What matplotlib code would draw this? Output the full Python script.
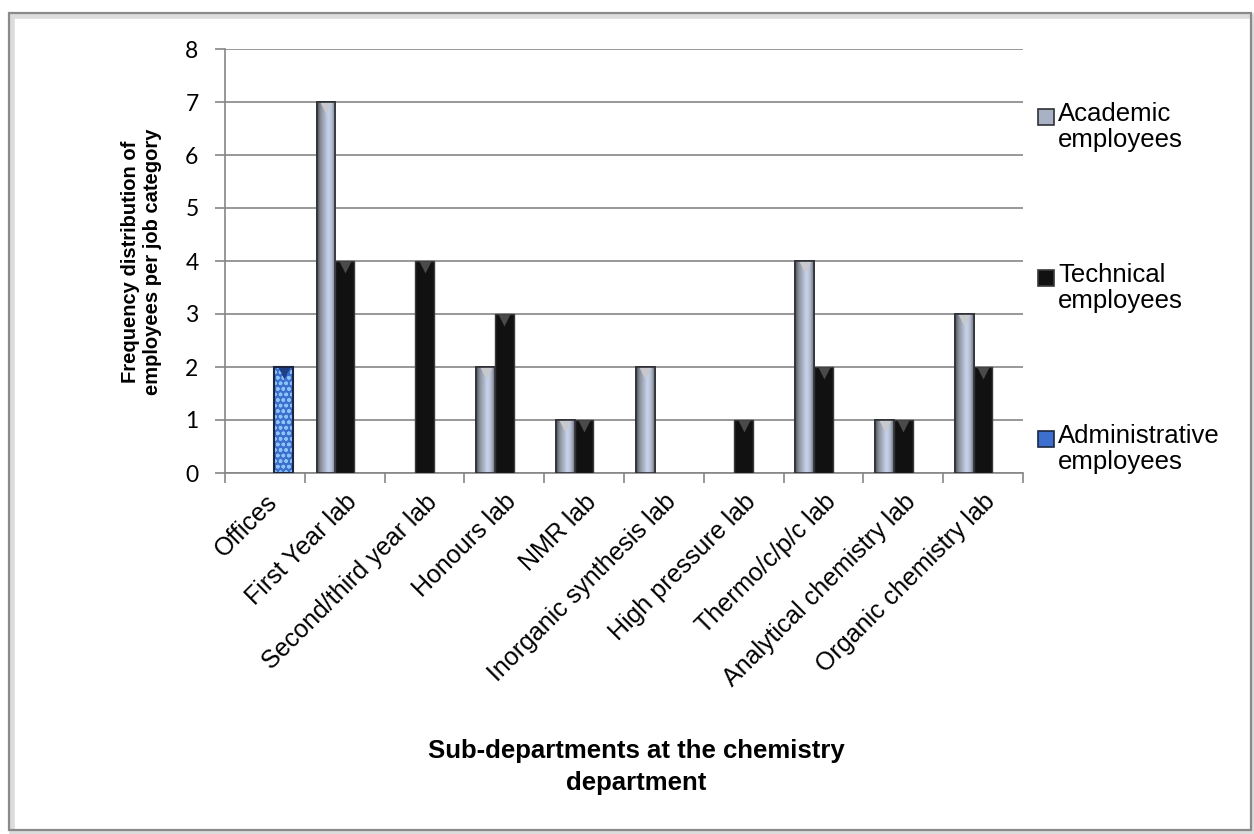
import numpy as np
import matplotlib
matplotlib.use("Agg")
import matplotlib.pyplot as plt
import matplotlib.patches as mpatches
from matplotlib.colors import LinearSegmentedColormap

# Data
categories = ["Offices", "First Year lab", "Second/third year lab", "Honours lab",
              "NMR lab", "Inorganic synthesis lab", "High pressure lab",
              "Thermo/c/p/c lab", "Analytical chemistry lab", "Organic chemistry lab"]
academic = [0, 7, 0, 2, 1, 2, 0, 4, 1, 3]
technical = [0, 4, 4, 3, 1, 0, 1, 2, 1, 2]
administrative = [2, 0, 0, 0, 0, 0, 0, 0, 0, 0]
series_names = ["Academic\nemployees", "Technical\nemployees", "Administrative\nemployees"]
y_ticks = [0, 1, 2, 3, 4, 5, 6, 7, 8]

plt.rcParams["font.family"] = ["Liberation Sans", "DejaVu Sans"]

W, H = 1254, 834
fig = plt.figure(figsize=(W / 100, H / 100), dpi=100)
ax = fig.add_axes([225 / W, 1 - 473 / H, (1023 - 225) / W, (473 - 49) / H])

x = np.arange(len(categories))
width = 0.235
steel = LinearSegmentedColormap.from_list(
    "steel", ["#4d5158", "#8c919b", "#a9b2c4", "#c9d5ee", "#b3bdd2", "#6f747c"])
grad = np.linspace(0, 1, 64).reshape(1, -1)


def lw_for(vals, w):
    return [w if v > 0 else 0 for v in vals]


# Academic bars with horizontal metallic gradient
acad = ax.bar(x - width, academic, width, color="#a9b2c4", edgecolor="#2f3136",
              linewidth=lw_for(academic, 1.2), zorder=3)
for p, v in zip(acad.patches, academic):
    if v <= 0:
        continue
    im = ax.imshow(grad, extent=[p.get_x(), p.get_x() + p.get_width(), 0, v],
                   aspect="auto", cmap=steel, zorder=3.5, interpolation="bicubic")
    im.set_clip_path(p)
    ax.plot(p.get_x() + p.get_width() / 2, v - 0.12, marker="v", ms=9,
            color="#c7c9cc", mec="none", zorder=4)
    ax.add_patch(mpatches.Rectangle((p.get_x(), 0), p.get_width(), v, fill=False,
                                    edgecolor="#2f3136", linewidth=1.2, zorder=4.5))

# Technical bars, black with bevel triangle
tech = ax.bar(x, technical, width, color="#111111", edgecolor="#3a3a3a",
              linewidth=lw_for(technical, 1.0), zorder=3)
for p, v in zip(tech.patches, technical):
    if v > 0:
        ax.plot(p.get_x() + p.get_width() / 2, v - 0.12, marker="v", ms=9,
                color="#4a4a4a", mec="none", zorder=4)

# Administrative bars, blue textured
adm = ax.bar(x + width, administrative, width, color="#3d6fcf", hatch="ooo",
             edgecolor="#8cc4f7", linewidth=0, zorder=3)
for p, v in zip(adm.patches, administrative):
    if v > 0:
        ax.add_patch(mpatches.Rectangle((p.get_x(), 0), p.get_width(), v, fill=False,
                                        edgecolor="#1b2740", linewidth=1.5, zorder=4.5))
        ax.plot(p.get_x() + p.get_width() / 2, v - 0.12, marker="v", ms=9,
                color="#1f3f86", mec="none", zorder=4)

ax.set_xlim(-0.5, len(categories) - 0.5)
ax.set_ylim(0, 8)
ax.set_yticks(y_ticks)
ax.set_yticklabels([str(t) for t in y_ticks], fontsize=16.5, family=["Lato", "DejaVu Sans"])
ax.yaxis.grid(True, color="#868686", linewidth=1.2, zorder=0)
ax.set_axisbelow(True)

ax.set_xticks(x)
ax.set_xticklabels(categories, rotation=45, ha="right", rotation_mode="anchor", fontsize=18)
ax.tick_params(axis="x", which="major", length=0, pad=12)
ax.set_xticks(np.arange(-0.5, len(categories)), minor=True)
ax.tick_params(axis="x", which="minor", length=7, color="#868686", width=1.2)
ax.tick_params(axis="y", length=7, color="#868686", width=1.2, pad=12)

for s in ["top", "right"]:
    ax.spines[s].set_visible(False)
for s in ["left", "bottom"]:
    ax.spines[s].set_color("#868686")
    ax.spines[s].set_linewidth(1.2)

# Axis titles
fig.text(141 / W, 1 - 262 / H, "Frequency distribution of\nemployees per job category",
         rotation=90, ha="center", va="center", fontsize=14.5, fontweight="bold",
         linespacing=1.2)
fig.text(636 / W, 1 - 767 / H, "Sub-departments at the chemistry\ndepartment",
         ha="center", va="center", fontsize=18.5, fontweight="bold", linespacing=1.4)

# Legend drawn manually
leg_y = [117, 278, 439]
leg_face = ["#a9b2c4", "#111111", "#3d6fcf"]
leg_edge = ["#2f3136", "#3a3a3a", "#1b2740"]
for name, yy, fc, ec in zip(series_names, leg_y, leg_face, leg_edge):
    fig.patches.append(mpatches.Rectangle((1038 / W, 1 - (yy + 8) / H), 16 / W, 16 / H,
                                          transform=fig.transFigure, facecolor=fc,
                                          edgecolor=ec, linewidth=1.2))
    fig.text(1058 / W, 1 - (yy - 15) / H, name, ha="left", va="top", fontsize=18.5,
             linespacing=1.08)

# Outer chart frame with a soft shadow
fig.patches.append(mpatches.Rectangle((12 / W, 1 - 833 / H), 1242 / W, 817 / H,
                                      transform=fig.transFigure, fill=False,
                                      edgecolor="#dcdcdc", linewidth=4))
fig.patches.append(mpatches.Rectangle((9 / W, 1 - 830 / H), 1242 / W, 817 / H,
                                      transform=fig.transFigure, fill=False,
                                      edgecolor="#8a8a8a", linewidth=1.6))

fig.savefig("out.png", dpi=100)
